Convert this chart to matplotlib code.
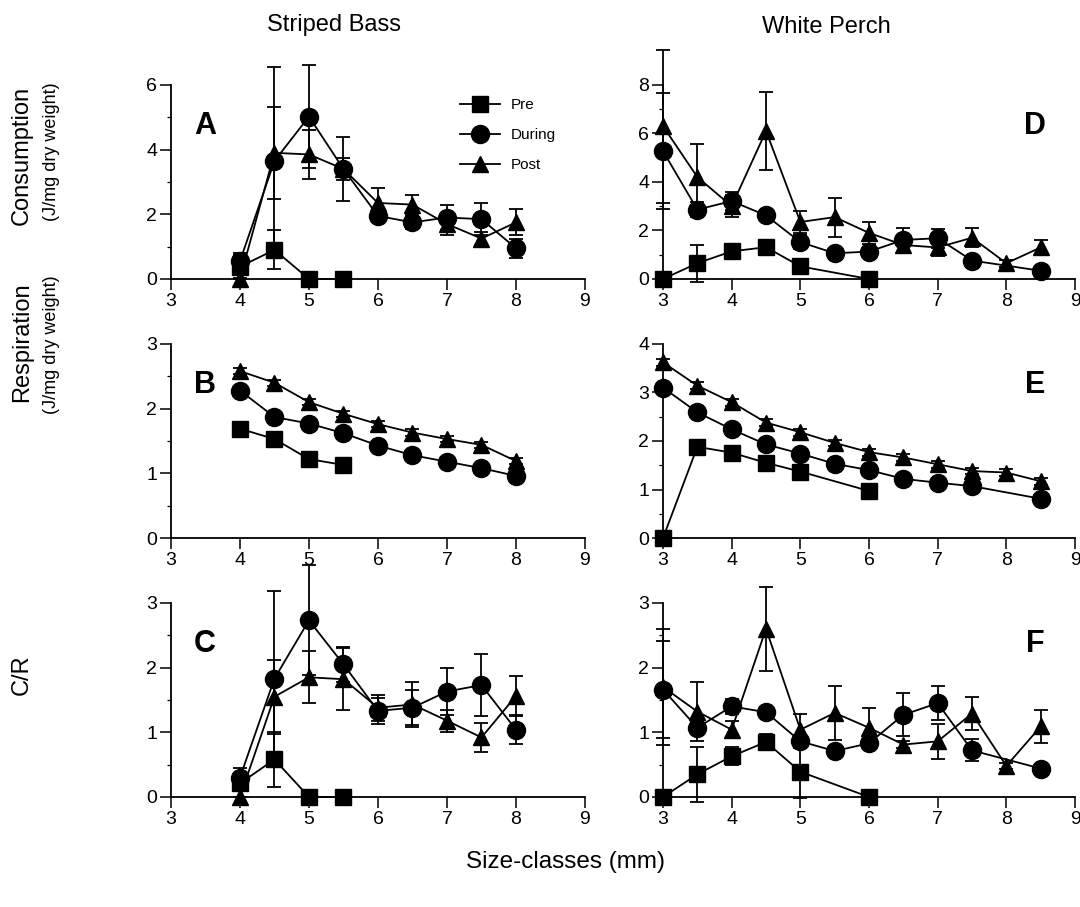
import numpy as np
import matplotlib
matplotlib.use("Agg")
import matplotlib.pyplot as plt
from matplotlib.ticker import MultipleLocator

plt.rcParams["font.family"] = ["Liberation Sans", "DejaVu Sans"]

# ─── SIZE CLASSES ─────────────────────────────────────────────────────────────
sb_size = [4.0, 4.5, 5.0, 5.5, 6.0, 6.5, 7.0, 7.5, 8.0]
sb_pre_size = [4.0, 4.5, 5.0, 5.5]
wp_size = [3.0, 3.5, 4.0, 4.5, 5.0, 5.5, 6.0, 6.5, 7.0, 7.5, 8.0, 8.5]
wp_pre_size = [3.0, 3.5, 4.0, 4.5, 5.0, 6.0]
wp_dur_size = [3.0, 3.5, 4.0, 4.5, 5.0, 5.5, 6.0, 6.5, 7.0, 7.5, 8.5]

# ─── STRIPED BASS ─────────────────────────────────────────────────────────────
sb_cons_pre = [0.38, 0.9, 0.0, 0.0]
sb_cons_pre_se = [0.35, 0.6, 0.0, 0.0]
sb_cons_dur = [0.55, 3.65, 5.02, 3.4, 1.95, 1.75, 1.9, 1.85, 0.95]
sb_cons_dur_se = [0.25, 2.9, 1.6, 1.0, 0.2, 0.2, 0.4, 0.5, 0.3]
sb_cons_post = [0.0, 3.9, 3.85, 3.4, 2.35, 2.3, 1.7, 1.25, 1.75]
sb_cons_post_se = [0.0, 1.43, 0.75, 0.35, 0.45, 0.3, 0.35, 0.2, 0.4]

sb_resp_pre = [1.69, 1.53, 1.22, 1.13]
sb_resp_pre_se = [0.02, 0.02, 0.02, 0.02]
sb_resp_dur = [2.28, 1.87, 1.77, 1.62, 1.43, 1.28, 1.18, 1.08, 0.96]
sb_resp_dur_se = [0.03] * 9
sb_resp_post = [2.58, 2.4, 2.1, 1.92, 1.76, 1.63, 1.53, 1.44, 1.19]
sb_resp_post_se = [0.05] * 9

sb_cr_pre = [0.21, 0.58, 0.0, 0.0]
sb_cr_pre_se = [0.12, 0.42, 0.0, 0.0]
sb_cr_dur = [0.3, 1.83, 2.73, 2.05, 1.33, 1.38, 1.63, 1.73, 1.04]
sb_cr_dur_se = [0.15, 1.36, 0.85, 0.27, 0.2, 0.27, 0.37, 0.48, 0.22]
sb_cr_post = [0.0, 1.55, 1.85, 1.82, 1.38, 1.43, 1.18, 0.92, 1.56]
sb_cr_post_se = [0.0, 0.57, 0.4, 0.48, 0.2, 0.35, 0.17, 0.22, 0.31]

# ─── WHITE PERCH ──────────────────────────────────────────────────────────────
wp_cons_pre = [0.0, 0.65, 1.14, 1.31, 0.52, 0.0]
wp_cons_pre_se = [0.0, 0.77, 0.15, 0.15, 0.3, 0.0]
wp_cons_dur = [5.27, 2.86, 3.21, 2.62, 1.52, 1.06, 1.13, 1.61, 1.68, 0.76, 0.34]
wp_cons_dur_se = [2.4, 0.3, 0.38, 0.2, 0.3, 0.1, 0.2, 0.5, 0.4, 0.15, 0.1]
wp_cons_post = [6.3, 4.2, 3.0, 6.1, 2.35, 2.55, 1.9, 1.4, 1.3, 1.7, 0.65, 1.3]
wp_cons_post_se = [3.15, 1.35, 0.45, 1.6, 0.45, 0.8, 0.45, 0.3, 0.35, 0.4, 0.15, 0.3]

wp_resp_pre = [0.0, 1.88, 1.76, 1.55, 1.37, 0.97]
wp_resp_pre_se = [0.0, 0.03, 0.03, 0.03, 0.03, 0.03]
wp_resp_dur = [3.1, 2.59, 2.24, 1.93, 1.74, 1.53, 1.4, 1.22, 1.14, 1.07, 0.81]
wp_resp_dur_se = [0.04] * 11
wp_resp_post = [3.62, 3.14, 2.8, 2.38, 2.18, 1.96, 1.77, 1.66, 1.52, 1.38, 1.35, 1.17]
wp_resp_post_se = [0.07] * 12

wp_cr_pre = [0.0, 0.35, 0.63, 0.85, 0.39, 0.0]
wp_cr_pre_se = [0.0, 0.42, 0.14, 0.13, 0.4, 0.0]
wp_cr_dur = [1.66, 1.07, 1.4, 1.31, 0.86, 0.71, 0.83, 1.27, 1.45, 0.72, 0.44]
wp_cr_dur_se = [0.75, 0.1, 0.12, 0.05, 0.1, 0.05, 0.05, 0.33, 0.26, 0.17, 0.05]
wp_cr_post = [1.7, 1.32, 1.04, 2.6, 1.04, 1.3, 1.07, 0.81, 0.86, 1.29, 0.48, 1.09]
wp_cr_post_se = [0.9, 0.45, 0.13, 0.65, 0.25, 0.42, 0.3, 0.05, 0.27, 0.25, 0.05, 0.26]

# ─── PANEL SETUP ──────────────────────────────────────────────────────────────
PANELS = [
    # (row, col, letter, ylim top, major step, series)
    (0, 0, "A", 6, 2, [(sb_pre_size, sb_cons_pre, sb_cons_pre_se),
                       (sb_size, sb_cons_dur, sb_cons_dur_se),
                       (sb_size, sb_cons_post, sb_cons_post_se)]),
    (1, 0, "B", 3, 1, [(sb_pre_size, sb_resp_pre, sb_resp_pre_se),
                       (sb_size, sb_resp_dur, sb_resp_dur_se),
                       (sb_size, sb_resp_post, sb_resp_post_se)]),
    (2, 0, "C", 3, 1, [(sb_pre_size, sb_cr_pre, sb_cr_pre_se),
                       (sb_size, sb_cr_dur, sb_cr_dur_se),
                       (sb_size, sb_cr_post, sb_cr_post_se)]),
    (0, 1, "D", 8, 2, [(wp_pre_size, wp_cons_pre, wp_cons_pre_se),
                       (wp_dur_size, wp_cons_dur, wp_cons_dur_se),
                       (wp_size, wp_cons_post, wp_cons_post_se)]),
    (1, 1, "E", 4, 1, [(wp_pre_size, wp_resp_pre, wp_resp_pre_se),
                       (wp_dur_size, wp_resp_dur, wp_resp_dur_se),
                       (wp_size, wp_resp_post, wp_resp_post_se)]),
    (2, 1, "F", 3, 1, [(wp_pre_size, wp_cr_pre, wp_cr_pre_se),
                       (wp_dur_size, wp_cr_dur, wp_cr_dur_se),
                       (wp_size, wp_cr_post, wp_cr_post_se)]),
]

LABELS = ["Pre", "During", "Post"]
MARKERS = [("s", 12), ("o", 13), ("^", 12)]

COL_X = [0.1583, 0.6139]
COL_W = [0.3833, 0.3815]
ROW_Y = [0.6924, 0.4068, 0.1213]
ROW_H = 0.214

fig = plt.figure(figsize=(10.8, 9.07), dpi=100)
fig.patch.set_facecolor("white")

legend_handles = None

for row, col, letter, top, step, series in PANELS:
    ax = fig.add_axes([COL_X[col], ROW_Y[row], COL_W[col], ROW_H])
    handles = []
    for (x, y, se), (mk, ms) in zip(series, MARKERS):
        ax.errorbar(x, y, yerr=se, fmt="none", ecolor="black", elinewidth=1.3,
                    capsize=5, capthick=1.3, zorder=2, clip_on=False)
        h, = ax.plot(x, y, color="black", linewidth=1.3, marker=mk,
                     markersize=ms, markerfacecolor="black",
                     markeredgecolor="black", zorder=3, clip_on=False)
        handles.append(h)
    if legend_handles is None:
        legend_handles = handles

    ax.set_xlim(3, 9)
    ax.set_ylim(0, top)
    ax.xaxis.set_major_locator(MultipleLocator(1))
    ax.yaxis.set_major_locator(MultipleLocator(step))
    ax.yaxis.set_minor_locator(MultipleLocator(step / 2))
    for side in ("top", "right"):
        ax.spines[side].set_visible(False)
    for side in ("left", "bottom"):
        ax.spines[side].set_linewidth(1.3)
    ax.tick_params(which="major", direction="out", length=8, width=1.1,
                   labelsize=14, pad=2)
    ax.tick_params(which="minor", direction="out", length=3, width=0.9)
    ax.tick_params(axis="x", which="minor", length=0)

    lx = 0.082 if col == 0 else 0.903
    ax.text(lx, 0.79, letter, transform=ax.transAxes, fontsize=22,
            fontweight="bold", ha="center", va="center")

    if row == 0 and col == 0:
        ax.legend(legend_handles, LABELS, loc="upper left",
                  bbox_to_anchor=(0.68, 0.97), frameon=False, fontsize=11,
                  handlelength=2.6, handletextpad=0.7, labelspacing=1.05,
                  borderpad=0)

# ─── TITLES AND AXIS LABELS ───────────────────────────────────────────────────
fig.text(334 / 1080, 1 - 25 / 907, "Striped Bass", fontsize=17,
         ha="center", va="center")
fig.text(826 / 1080, 1 - 27 / 907, "White Perch", fontsize=17,
         ha="center", va="center")
fig.text(566 / 1080, 1 - 862 / 907, "Size-classes (mm)", fontsize=17.5,
         ha="center", va="center")

fig.text(22 / 1080, 1 - 155 / 907, "Consumption", fontsize=17,
         rotation=90, ha="center", va="center")
fig.text(52 / 1080, 1 - 152 / 907, "(J/mg dry weight)", fontsize=13,
         rotation=90, ha="center", va="center")
fig.text(22 / 1080, 1 - 342 / 907, "Respiration", fontsize=17,
         rotation=90, ha="center", va="center")
fig.text(52 / 1080, 1 - 345 / 907, "(J/mg dry weight)", fontsize=13,
         rotation=90, ha="center", va="center")
fig.text(22 / 1080, 1 - 675 / 907, "C/R", fontsize=17,
         rotation=90, ha="center", va="center")

fig.savefig("out.png", dpi=100)
